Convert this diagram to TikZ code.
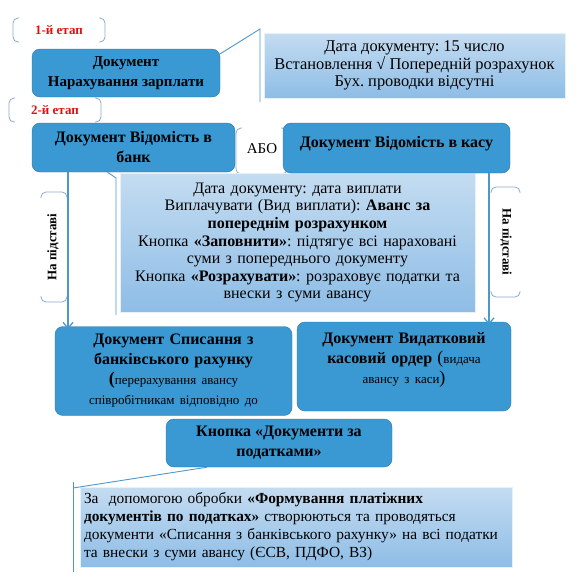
\documentclass[tikz,border=0pt]{standalone}
\usepackage{fontspec}
\setmainfont{Liberation Serif}
\frenchspacing
\usetikzlibrary{arrows.meta, positioning}

\definecolor{boxblue}{HTML}{3A98D3}
\definecolor{boxedge}{HTML}{2A78AE}
\definecolor{infotop}{HTML}{C4DCF1}
\definecolor{infobot}{HTML}{8EBDE6}
\definecolor{linkblue}{HTML}{4F97C9}
\definecolor{brack}{HTML}{8AAAC6}
\definecolor{stagered}{HTML}{E01010}

\begin{document}
\begin{tikzpicture}[x=1pt,y=-1pt,
  doc/.style={draw=boxedge, fill=boxblue, rounded corners=8pt, align=center,
    inner sep=3pt, font=\fontsize{16}{20}\selectfont\bfseries},
  info/.style={draw=white!60!infotop, top color=infotop, bottom color=infobot,
    align=center, inner sep=3pt, font=\fontsize{16}{17.6}\selectfont},
  brk/.style={draw=brack, line width=0.8pt, rounded corners=5pt},
  link/.style={draw=linkblue, line width=0.9pt},
  arr/.style={draw=linkblue, line width=1.3pt, -{Straight Barb[length=6pt,width=10pt]}},
  stage/.style={text=stagered, font=\fontsize{13}{15}\selectfont\bfseries},
  basis/.style={font=\fontsize{13}{15}\selectfont\bfseries}]
  \useasboundingbox (0,0) rectangle (581,579);

  % brackets
  \draw[brk] (19,18) -- (13,18) -- (13,42) -- (19,42);
  \draw[brk] (99,18) -- (105,18) -- (105,42) -- (99,42);
  \draw[brk] (15,98) -- (9,98) -- (9,122) -- (15,122);
  \draw[brk] (95,98) -- (101,98) -- (101,122) -- (95,122);
  \draw[brk] (242,128) -- (236,128) -- (236,174) -- (242,174);
  \draw[brk] (281,128) -- (287,128) -- (287,174) -- (281,174);
  \draw[brk] (41,198) -- (41,192) -- (67,192) -- (67,198);
  \draw[brk] (41,296) -- (41,302) -- (67,302) -- (67,296);
  \draw[brk] (491,193) -- (491,187) -- (520,187) -- (520,193);
  \draw[brk] (491,291) -- (491,297) -- (520,297) -- (520,291);

  \node[stage] (st1) at (59,30) {1-й етап};
  \node[stage] (st2) at (55,110) {2-й етап};
  \node[font=\fontsize{15}{17}\selectfont] (abo) at (262,149) {АБО};
  \node[basis, rotate=90] (base1) at (53,247) {На підставі};
  \node[basis, rotate=-90] (base2) at (506,242) {На підставі};

  % info boxes
  \node[info, minimum width=301pt, minimum height=65pt,
    font=\fontsize{16.4}{17.2}\selectfont] (info1) at (414.5,65.5)
    {Дата документу: 15 число\\ Встановлення √ Попередній розрахунок\\ Бух. проводки відсутні};
  \node[info, minimum width=355pt, minimum height=139pt, text width=347pt] (info2) at (297.5,242.5)
    {Дата документу: дата виплати\\ Виплачувати (Вид виплати): \textbf{Аванс за}\\
     \textbf{попереднім розрахунком}\\ Кнопка \textbf{«Заповнити»}: підтягує всі нараховані\\
     суми з попереднього документу\\ Кнопка \textbf{«Розрахувати»}: розраховує податки та\\
     внески з суми авансу};
  \node[info, align=left, minimum width=432pt, minimum height=80pt, text width=424pt,
    font=\fontsize{15.4}{18}\selectfont] (info3) at (296,527)
    {За\ \ допомогою обробки \textbf{«Формування платіжних}\\
     \textbf{документів по податках»} створюються та проводяться\\
     документи «Списання з банківського рахунку» на всі податки\\
     та внески з суми авансу (ЄСВ, ПДФО, ВЗ)};

  % callout lines
  \coordinate (c1a) at (260,29);
  \coordinate (c1b) at (260,102);
  \coordinate (c2a) at (116,178);
  \coordinate (c2b) at (116,315);
  \coordinate (c3a) at (73,488);
  \coordinate (c3b) at (73,572);
  \coordinate (c3t) at (73,482);

  % documents
  \node[doc, minimum width=188pt, minimum height=48pt,
    font=\fontsize{15}{20}\selectfont\bfseries] (accrual) at (126,73)
    {Документ\\ Нарахування зарплати};
  \node[doc, minimum width=203pt, minimum height=49pt] (bank) at (133.5,147.5)
    {Документ Відомість в\\ банк};
  \node[doc, minimum width=227pt, minimum height=50pt] (cash) at (396.5,148)
    {\raisebox{12pt}{Документ Відомість в касу}};
  \node[doc, minimum width=237pt, minimum height=89pt, text width=228pt] (writeoff) at (173.5,371)
    {Документ Списання з\\ банківського рахунку\\
     {\fontsize{18}{19}\selectfont(}{\fontsize{13}{19}\selectfont\mdseries перерахування авансу}\\
     {\fontsize{13}{17}\selectfont\mdseries співробітникам відповідно до}};
  \node[doc, minimum width=214pt, minimum height=89pt, text width=205pt] (order) at (404,366.5)
    {Документ Видатковий\\
     касовий ордер {\fontsize{18}{19}\selectfont\mdseries(}{\fontsize{13}{19}\selectfont\mdseries видача}\\
     {\fontsize{13}{19}\selectfont\mdseries авансу з каси}{\fontsize{18}{19}\selectfont\mdseries)}\\[-3pt]\mbox{}};
  \node[doc, minimum width=226pt, minimum height=48pt] (taxbtn) at (279,443)
    {Кнопка «Документи за\\ податками»};

  \coordinate (la) at (68,0);
  \coordinate (ra) at (489,0);

  \draw[link] ([yshift=-5pt]accrual.north east) -- (c1a) -- (c1b);
  \draw[link] ([xshift=-26pt]bank.south) -- (c2a) -- (c2b);
  \draw[link] ([xshift=-72pt]taxbtn.south) -- (c3a);
  \draw[link] (c3t) -- (c3b);

  \draw[arr] (bank.south -| la) -- ([yshift=-3pt]writeoff.north -| la);
  \draw[arr] (cash.south -| ra) -- ([yshift=-3pt]order.north -| ra);
\end{tikzpicture}
\end{document}
